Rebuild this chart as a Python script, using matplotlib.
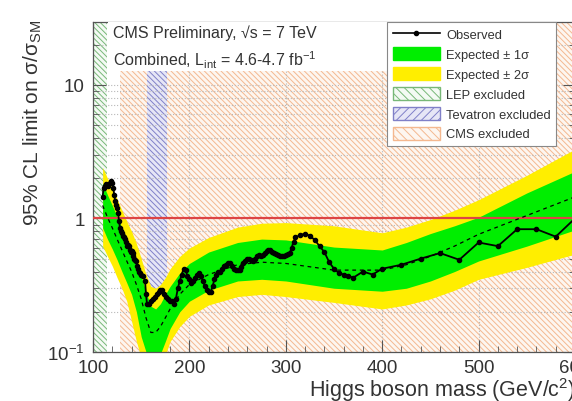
import matplotlib.pyplot as plt
from matplotlib.patches import Patch, Rectangle
from matplotlib.lines import Line2D
from matplotlib.ticker import FixedLocator, FixedFormatter, LogLocator, MultipleLocator, NullFormatter

plt.rcParams['font.family'] = ['Liberation Sans', 'DejaVu Sans']
plt.rcParams['mathtext.fontset'] = 'custom'
plt.rcParams['mathtext.rm'] = 'Liberation Sans'
plt.rcParams['mathtext.default'] = 'regular'
plt.rcParams['hatch.linewidth'] = 0.7

# observed 95% CL limit
obs_mass = [110, 111, 112, 114, 116, 118, 119, 120, 121, 122,
            123, 124, 125, 126, 127, 128, 129, 130, 131, 132,
            133, 134, 135, 136, 137, 138, 139, 140, 141, 142,
            143, 144, 145, 146, 147, 148, 149, 150, 152, 154,
            155, 156, 158, 160, 162, 164, 166, 168, 170, 172,
            174, 176, 178, 180, 182, 184, 186, 188, 190, 192,
            194, 196, 198, 200, 202, 204, 206, 208, 210, 212,
            214, 216, 218, 220, 222, 224, 226, 228, 230, 232,
            234, 236, 238, 240, 242, 244, 246, 248, 250, 252,
            254, 256, 258, 260, 262, 264, 266, 268, 270, 272,
            274, 276, 278, 280, 282, 284, 286, 288, 290, 292,
            294, 296, 298, 300, 302, 304, 306, 308, 310, 315,
            320, 325, 330, 335, 340, 345, 350, 355, 360, 365,
            370, 380, 390, 400, 420, 440, 460, 480, 500, 520,
            540, 560, 580, 600]
obs_limit = [1.45, 1.70, 1.75, 1.80, 1.75, 1.85, 1.90, 1.85, 1.70, 1.50,
             1.35, 1.25, 1.20, 1.10, 0.95, 0.85, 0.80, 0.78, 0.74, 0.72,
             0.70, 0.66, 0.62, 0.63, 0.62, 0.58, 0.56, 0.57, 0.55, 0.52,
             0.50, 0.49, 0.48, 0.44, 0.42, 0.40, 0.39, 0.38, 0.37, 0.34,
             0.27, 0.23, 0.23, 0.24, 0.25, 0.26, 0.27, 0.28, 0.29, 0.29,
             0.27, 0.26, 0.25, 0.24, 0.24, 0.23, 0.25, 0.30, 0.34, 0.38,
             0.42, 0.41, 0.37, 0.35, 0.33, 0.34, 0.36, 0.38, 0.39, 0.37,
             0.34, 0.31, 0.29, 0.28, 0.28, 0.31, 0.35, 0.38, 0.40, 0.40,
             0.42, 0.44, 0.45, 0.46, 0.46, 0.44, 0.42, 0.41, 0.41, 0.41,
             0.43, 0.46, 0.48, 0.50, 0.50, 0.49, 0.48, 0.50, 0.52, 0.53,
             0.52, 0.53, 0.55, 0.57, 0.58, 0.58, 0.56, 0.55, 0.54, 0.53,
             0.52, 0.52, 0.52, 0.53, 0.54, 0.55, 0.60, 0.67, 0.72, 0.75,
             0.77, 0.74, 0.69, 0.62, 0.56, 0.47, 0.42, 0.39, 0.38, 0.37,
             0.36, 0.40, 0.38, 0.42, 0.45, 0.50, 0.55, 0.49, 0.66, 0.62,
             0.83, 0.83, 0.73, 1.00]

# expected limit: median and 1/2 sigma bands
exp_mass = [110, 115, 120, 125, 130, 135, 140, 145, 150, 155,
            160, 165, 170, 175, 180, 190, 200, 220, 250, 275,
            300, 350, 400, 425, 450, 475, 500, 550, 600]
exp_median = [1.25, 1.02, 0.85, 0.70, 0.58, 0.48, 0.40, 0.32, 0.25, 0.18,
              0.14, 0.14, 0.155, 0.18, 0.21, 0.27, 0.32, 0.38, 0.45, 0.47,
              0.46, 0.41, 0.41, 0.45, 0.52, 0.62, 0.76, 1.05, 1.45]
exp_p2 = [2.4, 2.0, 1.7, 1.4, 1.15, 0.95, 0.80, 0.65, 0.50, 0.38,
          0.31, 0.30, 0.32, 0.36, 0.42, 0.52, 0.60, 0.72, 0.86, 0.92,
          0.93, 0.88, 0.78, 0.86, 0.98, 1.15, 1.38, 2.1, 3.3]
exp_p1 = [1.85, 1.5, 1.25, 1.03, 0.85, 0.70, 0.58, 0.47, 0.37, 0.28,
          0.22, 0.21, 0.23, 0.27, 0.31, 0.39, 0.46, 0.56, 0.66, 0.70,
          0.69, 0.61, 0.58, 0.66, 0.77, 0.88, 1.02, 1.55, 2.25]
exp_m1 = [0.85, 0.70, 0.59, 0.49, 0.40, 0.33, 0.27, 0.20, 0.13, 0.10,
          0.085, 0.088, 0.097, 0.12, 0.15, 0.20, 0.24, 0.29, 0.34, 0.35,
          0.34, 0.30, 0.285, 0.30, 0.34, 0.40, 0.48, 0.62, 0.82]
exp_m2 = [0.62, 0.52, 0.44, 0.36, 0.30, 0.24, 0.17, 0.12, 0.09, 0.07,
          0.06, 0.06, 0.07, 0.095, 0.12, 0.155, 0.185, 0.225, 0.26, 0.27,
          0.26, 0.235, 0.21, 0.225, 0.25, 0.29, 0.35, 0.43, 0.54]

# excluded mass ranges (GeV)
lep_range = (100, 114.4)
tev_range = (156, 177)
cms_range = (127.5, 600)

green = '#00ee00'
yellow = '#ffee00'
lep_col = '#78b878'
tev_col = '#8080c8'
cms_col = '#f4b890'
txt_col = '#333333'
hatch_fine = '\\' * 6

fig = plt.figure(figsize=(5.72, 4.02), dpi=100)
ax = fig.add_axes([93 / 572, 1 - 353 / 402, 482 / 572, 330 / 402])
ax.set_axisbelow(True)

# excluded regions
ax.axvspan(*cms_range, facecolor='#fdf6f0', edgecolor=cms_col, hatch=hatch_fine, lw=0, zorder=0.2)
ax.axvspan(*lep_range, facecolor='#f4faf4', edgecolor=lep_col, hatch=hatch_fine, lw=0, zorder=0.2)
ax.axvspan(*tev_range, facecolor='#e6e6f6', edgecolor=tev_col, hatch=hatch_fine, lw=0, zorder=0.25)

# expected bands and median
ax.fill_between(exp_mass, exp_m2, exp_p2, color=yellow, lw=0, zorder=2)
ax.fill_between(exp_mass, exp_m1, exp_p1, color=green, lw=0, zorder=2.1)
ax.plot(exp_mass, exp_median, color='k', ls=(0, (3, 3)), lw=0.9, zorder=4)

ax.axhline(1, color='#dd4444', lw=1.6, zorder=3)

ax.plot(obs_mass, obs_limit, color='k', lw=1.3, marker='o', ms=3, zorder=5)

ax.set_yscale('log')
ax.set_xlim(100, 600)
ax.set_ylim(0.1, 29.5)

ax.xaxis.set_major_locator(MultipleLocator(100))
ax.xaxis.set_minor_locator(MultipleLocator(20))
ax.yaxis.set_major_locator(FixedLocator([0.1, 1, 10]))
ax.yaxis.set_major_formatter(FixedFormatter(['10$^{-1}$', '1', '10']))
ax.yaxis.set_minor_locator(LogLocator(base=10, subs=range(2, 10)))
ax.yaxis.set_minor_formatter(NullFormatter())

ax.tick_params(which='both', direction='in', top=True, right=True,
               colors='#555555', labelcolor=txt_col, labelsize=13.5)
ax.tick_params(which='major', length=9, pad=6)
ax.tick_params(which='minor', length=4.5)
ax.tick_params(axis='x', pad=5)

ax.grid(which='major', color='#b8b8b8', ls=':', lw=0.8)
ax.grid(which='minor', axis='y', color='#b8b8b8', ls=':', lw=0.8)
for s in ax.spines.values():
    s.set_color('#555555')
    s.set_linewidth(0.9)

# white panel behind the header text
ax.add_patch(Rectangle((0.031, 0.852), 0.58, 0.15, transform=ax.transAxes,
                       facecolor='white', edgecolor='none', zorder=6))
ax.text(0.042, 0.968, 'CMS Preliminary, √s = 7 TeV', transform=ax.transAxes,
        fontsize=11.5, color=txt_col, va='center', ha='left', zorder=7)
ax.text(0.042, 0.886, 'Combined, L$_{int}$ = 4.6-4.7 fb$^{-1}$', transform=ax.transAxes,
        fontsize=11.5, color=txt_col, va='center', ha='left', zorder=7)

handles = [
    Line2D([], [], color='k', lw=1.2, marker='o', ms=3),
    Patch(facecolor=green, edgecolor=green),
    Patch(facecolor=yellow, edgecolor=yellow),
    Patch(facecolor='#f4faf4', edgecolor=lep_col, hatch='\\\\\\\\'),
    Patch(facecolor='#e6e6f6', edgecolor=tev_col, hatch='////'),
    Patch(facecolor='#fdf6f0', edgecolor=cms_col, hatch='\\\\\\\\'),
]
labels = ['Observed', 'Expected ± 1σ', 'Expected ± 2σ',
          'LEP excluded', 'Tevatron excluded', 'CMS excluded']
leg = ax.legend(handles, labels, loc='upper right', bbox_to_anchor=(0.961, 1.0),
                borderaxespad=0, fontsize=9.3, frameon=True, fancybox=False,
                edgecolor='#888888', framealpha=1, handlelength=3.7,
                handleheight=1.15, labelspacing=0.47, borderpad=0.42,
                handletextpad=0.45, labelcolor=txt_col)
leg.get_frame().set_linewidth(0.8)
leg.set_zorder(10)

fig.text(1.007, 1 - 390 / 402, 'Higgs boson mass (GeV/c$^{2}$)', ha='right', va='center',
         fontsize=15.5, color=txt_col)
fig.text(33 / 572, 1 - 20 / 402, '95% CL limit on σ/σ$_{SM}$', ha='center', va='top',
         rotation=90, fontsize=15, color=txt_col)

fig.savefig('out.png', dpi=100)
